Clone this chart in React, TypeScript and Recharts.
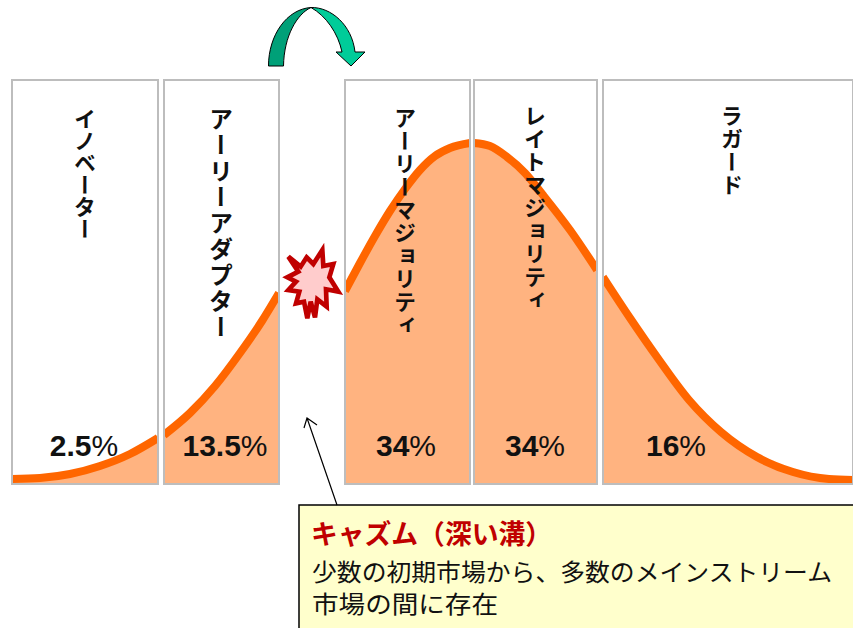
import { Area, ComposedChart, ReferenceArea, XAxis, YAxis } from "recharts";

const WIDTH = 853;
const HEIGHT = 628;
const BASELINE = 484;
const PANEL_TOP = 404;

// adopter groups, split by the chasm between the 2nd and 3rd
const panelNames = ["イノベーター", "アーリーアダプター", "アーリーマジョリティ", "レイトマジョリティ", "ラガード"];
const panelShares = ["2.5", "13.5", "34", "34", "16"];
const panelFrom = [12, 164, 345, 474, 603];
const panelTo = [158, 279, 470, 597, 853];

// bell curve: position along the adoption axis, height above the baseline
const curveX = [12, 40, 70, 100, 130, 158, 164, 190, 215, 240, 262, 279, 345, 360, 375, 390, 405, 420, 435, 450, 470, 474, 490, 507, 525, 543, 570, 597, 603, 630, 657, 689, 721, 757, 793, 829, 853];
const curveH = [5, 6, 10, 18, 30, 46, 49, 71, 98, 131, 163, 191, 193, 221, 248, 273, 295, 314, 328, 336, 341, 341, 338, 327, 311, 289, 254, 214, 207, 166, 127, 84, 52, 27, 12, 5, 4];

const labelSizes = [22, 24, 22, 22, 22];
const labelSpacing = [0, 2, 1, 1, 1];
const labelX = [85, 221, 405, 535, 732];
const labelY = [108, 107, 107, 105, 105];
const shareX = [84, 225, 406, 535, 676];

const curveData = curveX.map((x, i) => ({ x, h: curveH[i] }));

const sans = '"Noto Sans CJK JP", sans-serif';

export default function App() {
  return (
    <div style={{ position: "absolute", left: 0, top: 0, width: WIDTH, height: HEIGHT, background: "#fff" }}>
      <ComposedChart width={WIDTH} height={HEIGHT} data={curveData} margin={{ top: 0, right: 0, bottom: 0, left: 0 }}>
        <XAxis type="number" dataKey="x" domain={[0, WIDTH]} hide />
        <YAxis type="number" domain={[BASELINE - HEIGHT, BASELINE]} hide width={0} />
        {panelFrom.map((from, i) => (
          <ReferenceArea key={panelNames[i]} x1={from} x2={panelTo[i]} y1={0} y2={PANEL_TOP} fill="#fff" fillOpacity={1} />
        ))}
        {panelFrom.map((from, i) => (
          <Area
            key={from}
            type="monotone"
            dataKey={(d: { x: number; h: number }) => (d.x >= from && d.x <= panelTo[i] ? d.h : null)}
            baseValue={0}
            stroke="#ff6600"
            strokeWidth={8}
            fill="#ffb380"
            fillOpacity={1}
            dot={false}
            activeDot={false}
            isAnimationActive={false}
          />
        ))}
      </ComposedChart>

      {/* annotations sit in their own layer so they stay above the curve */}
      <svg width={WIDTH} height={HEIGHT} style={{ position: "absolute", left: 0, top: 0 }}>
        {panelTo.slice(0, -1).map((to, i) => (
          <rect key={to} x={to} y={70} width={panelFrom[i + 1] - to} height={420} fill="#fff" />
        ))}
        {/* trim the stroke overhang at both ends of the curve */}
        <rect x={0} y={470} width={panelFrom[0]} height={20} fill="#fff" />
        <rect x={panelFrom[0] - 1} y={BASELINE} width={WIDTH} height={8} fill="#fff" />
        {panelFrom.map((from, i) => (
          <rect
            key={from}
            x={from}
            y={BASELINE - PANEL_TOP}
            width={panelTo[i] - from}
            height={PANEL_TOP}
            fill="none"
            stroke="#bdbdbd"
            strokeWidth={2}
          />
        ))}

        {panelNames.map((name, i) => (
          <text
            key={name}
            x={labelX[i]}
            y={labelY[i]}
            fontFamily={sans}
            fontSize={labelSizes[i]}
            fontWeight={700}
            letterSpacing={labelSpacing[i]}
            fill="#111"
            style={{ writingMode: "vertical-rl" }}
          >
            {name}
          </text>
        ))}
        {panelShares.map((s, i) => (
          <text key={i} x={shareX[i]} y={456} textAnchor="middle" fontFamily="Liberation Sans" fontSize={30} fontWeight={700} fill="#111">
            {s}
            <tspan fontWeight={400}>%</tspan>
          </text>
        ))}

        {/* leap across the chasm */}
        <path d="M268.5 66 C268.5 35 287 9 311 7.5 C297 14 284 36 283.5 66 Z" fill="#00a078" stroke="#000" strokeWidth={1} />
        <path
          d="M311 7.5 C331 7 352 25 355 52 L365 52 L351 66 L336 52 L342 52 C338 33 326 16 311 7.5 Z"
          fill="#00cc99"
          stroke="#000"
          strokeWidth={1}
        />

        {/* burst marking the gap */}
        <polygon
          transform="translate(280 240) scale(0.3333)"
          points="25,50 62,80 80,52 100,72 127,30 130,78 160,72 148,112 175,155 138,148 140,200 112,178 105,232 92,185 82,235 72,185 48,190 58,155 25,150 48,125 22,112 55,95"
          fill="#ffcccc"
          stroke="#c00000"
          strokeWidth={14}
          strokeLinejoin="miter"
        />

        {/* callout */}
        <rect x={299} y={505} width={560} height={130} fill="#ffffcc" stroke="#000" strokeWidth={1.5} />
        <path d="M337 505 L307 418 M304 428 L307 418 L317 425" fill="none" stroke="#000" strokeWidth={1.2} />
        <text x={311} y={544} fontFamily={sans} fontSize={27} fontWeight={700} fill="#c00000" textLength={241} lengthAdjust="spacingAndGlyphs">
          キャズム（深い溝）
        </text>
        <text x={312} y={581} fontFamily={sans} fontSize={24} fill="#111" textLength={520} lengthAdjust="spacingAndGlyphs">
          少数の初期市場から、多数のメインストリーム
        </text>
        <text x={312} y={613} fontFamily={sans} fontSize={24} fill="#111" textLength={186} lengthAdjust="spacingAndGlyphs">
          市場の間に存在
        </text>
      </svg>
    </div>
  );
}
